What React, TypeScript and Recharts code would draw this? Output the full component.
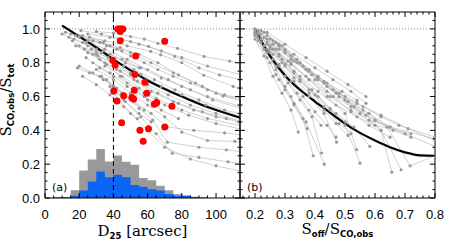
import React from 'react';
import { ComposedChart, Line, Area, Scatter, XAxis, YAxis, ReferenceLine } from 'recharts';

const W = 458;
const H = 248;

// ---- axis ticks ----
const xMajA = [0, 20, 40, 60, 80, 100];
const xAllA = [0, 5, 10, 15, 20, 25, 30, 35, 40, 45, 50, 55, 60, 65, 70, 75, 80, 85, 90, 95, 100, 105, 110];
const yMaj = [0, 0.2, 0.4, 0.6, 0.8, 1.0];
const yAll = [0, 0.05, 0.1, 0.15, 0.2, 0.25, 0.3, 0.35, 0.4, 0.45, 0.5, 0.55, 0.6, 0.65, 0.7, 0.75, 0.8, 0.85, 0.9, 0.95, 1.0, 1.05];
const xMajB = [0.2, 0.3, 0.4, 0.5, 0.6, 0.7, 0.8];
const xAllB = [0.16, 0.18, 0.2, 0.22, 0.24, 0.26, 0.28, 0.3, 0.32, 0.34, 0.36, 0.38, 0.4, 0.42, 0.44, 0.46, 0.48, 0.5, 0.52, 0.54, 0.56, 0.58, 0.6, 0.62, 0.64, 0.66, 0.68, 0.7, 0.72, 0.74, 0.76, 0.78, 0.8];
const xDomA: [number, number] = [0, 114];
const xDomB: [number, number] = [0.15, 0.8];
const yDom: [number, number] = [0, 1.1];

// ---- panel (a) data ----
const histBins = [5, 10, 15, 20, 25, 30, 35, 40, 45, 50, 55, 60, 65, 70, 75, 80, 85, 90, 95];
const histAll = [0, 0.004, 0.046, 0.162, 0.227, 0.29, 0.216, 0.252, 0.214, 0.197, 0.118, 0.105, 0.072, 0.046, 0.024, 0.017, 0.008, 0.003, 0];
const histSub = [0.004, 0.004, 0.014, 0.044, 0.097, 0.157, 0.123, 0.137, 0.123, 0.077, 0.067, 0.052, 0.044, 0.024, 0.012, 0.012, 0.006, 0.003, 0];

const fitAx = [10, 20, 30, 40, 50, 60, 70, 80, 90, 100, 114];
const fitAy = [1.02, 0.955, 0.89, 0.82, 0.755, 0.695, 0.645, 0.6, 0.557, 0.52, 0.475];

const redX = [42.5, 43.5, 44.5, 45.5, 44, 44, 70, 39.6, 41, 53, 52.5, 58.4, 40.2, 52.2, 59.5, 46, 50.8, 51.8, 42.1, 65.3, 63.9, 74.2, 44.8, 55.5, 60.5, 70, 57.4];
const redY = [1.0, 1.0, 1.0, 1.0, 0.985, 0.93, 0.927, 0.815, 0.787, 0.84, 0.73, 0.685, 0.633, 0.637, 0.62, 0.605, 0.595, 0.585, 0.573, 0.565, 0.555, 0.542, 0.445, 0.4, 0.41, 0.42, 0.335];

const tracksA: number[][][] = [
  [[30, 0.985], [40, 0.975], [50, 0.955], [58, 0.94], [66, 0.915], [77.5, 0.885], [93, 0.837], [108, 0.81], [118, 0.79]],
  [[25, 0.97], [38, 0.95], [50, 0.925], [60.5, 0.897], [75.8, 0.837], [90, 0.77], [102, 0.728], [118, 0.69]],
  [[22, 0.96], [35, 0.93], [48, 0.9], [61.8, 0.867], [67.6, 0.847], [80, 0.8], [92.8, 0.726], [110, 0.66], [118, 0.64]],
  [[20, 0.95], [32, 0.92], [44, 0.89], [55, 0.85], [66, 0.8], [78, 0.728], [92, 0.66], [104, 0.603], [118, 0.58]],
  [[18, 0.96], [28, 0.93], [38, 0.9], [50, 0.86], [62, 0.8], [75, 0.74], [88, 0.68], [100, 0.62], [118, 0.56]],
  [[15, 0.97], [25, 0.93], [35, 0.88], [48, 0.82], [60, 0.76], [72, 0.7], [85, 0.64], [98, 0.58], [118, 0.52]],
  [[24, 0.92], [34, 0.87], [45, 0.82], [56, 0.77], [68, 0.71], [80, 0.66], [95, 0.6], [118, 0.53]],
  [[20, 0.9], [30, 0.86], [40, 0.82], [52, 0.76], [64, 0.7], [76, 0.64], [90, 0.58], [105, 0.52], [118, 0.49]],
  [[27, 0.88], [37, 0.83], [46, 0.78], [56, 0.73], [68, 0.66], [80, 0.61], [94, 0.55], [118, 0.47]],
  [[30, 0.85], [40, 0.79], [50, 0.73], [60, 0.67], [72, 0.61], [85, 0.55], [100, 0.5], [118, 0.44]],
  [[25, 0.86], [35, 0.8], [44, 0.75], [54, 0.69], [66, 0.62], [78, 0.56], [92, 0.51], [106, 0.47], [118, 0.43]],
  [[32, 0.82], [42, 0.76], [52, 0.7], [62, 0.63], [75, 0.57], [87, 0.52], [100, 0.48], [118, 0.45]],
  [[35, 0.78], [45, 0.72], [55, 0.65], [65, 0.59], [80, 0.52], [95, 0.47], [118, 0.42]],
  [[28, 0.8], [38, 0.74], [48, 0.68], [58, 0.62], [70, 0.55], [84, 0.49], [100, 0.44], [118, 0.4]],
  [[30, 0.76], [40, 0.7], [50, 0.62], [60, 0.55], [70, 0.48], [80, 0.39], [95, 0.34], [111, 0.335], [118, 0.32]],
  [[33, 0.72], [42, 0.65], [52, 0.57], [62, 0.5], [71.5, 0.42], [87, 0.4], [105, 0.385], [118, 0.37]],
  [[36, 0.7], [45, 0.62], [55, 0.53], [63, 0.46], [71.5, 0.33], [90, 0.3], [106, 0.285], [118, 0.27]],
  [[38, 0.66], [47, 0.57], [56, 0.48], [65, 0.38], [74.4, 0.265], [90, 0.24], [107, 0.214], [118, 0.2]],
  [[40, 0.62], [50, 0.5], [60, 0.4], [70, 0.3], [85, 0.23], [100, 0.19], [118, 0.15]],
  [[18, 0.9], [28, 0.85], [36, 0.79], [44, 0.72], [52, 0.65], [60, 0.58], [68, 0.52], [78, 0.47]],
  [[24, 0.83], [32, 0.77], [40, 0.72], [48, 0.66], [58, 0.6], [66, 0.55]],
  [[20, 0.78], [28, 0.74], [34, 0.7], [40, 0.66], [50, 0.58], [58, 0.52]],
  [[19, 0.77], [26, 0.74], [32, 0.72], [40, 0.66], [46, 0.58], [55, 0.5], [62, 0.45]],
  [[22, 0.72], [30, 0.67], [38, 0.61], [46, 0.54], [54, 0.47]],
  [[12, 0.98], [20, 0.96], [28, 0.93], [36, 0.9], [45, 0.87]],
  [[14, 0.95], [22, 0.92], [30, 0.88], [38, 0.85], [47, 0.8], [55, 0.77]],
  [[16, 0.93], [23, 0.88], [31, 0.84], [40, 0.8], [50, 0.74]],
  [[10, 0.97], [17, 0.94], [25, 0.9], [33, 0.86]],
  [[26, 0.95], [34, 0.92], [42, 0.88], [50, 0.84], [58, 0.8], [66, 0.76], [75, 0.72], [85, 0.68], [95, 0.64], [105, 0.61], [118, 0.58]],
  [[21, 0.99], [33, 0.97], [45, 0.94], [55, 0.91], [68, 0.87], [80, 0.83], [95, 0.78], [118, 0.72]],
];

// ---- panel (b) data ----
const fitBx = [0.2, 0.25, 0.3, 0.35, 0.4, 0.45, 0.5, 0.55, 0.6, 0.65, 0.7, 0.75, 0.8];
const fitBy = [1.0, 0.84, 0.725, 0.64, 0.57, 0.505, 0.44, 0.385, 0.34, 0.3, 0.27, 0.252, 0.25];

const tracksB: number[][][] = [
  [[0.2, 1.0], [0.24, 0.94], [0.28, 0.88], [0.33, 0.81], [0.38, 0.75], [0.43, 0.69], [0.49, 0.63], [0.54, 0.577]],
  [[0.21, 0.99], [0.26, 0.91], [0.32, 0.82], [0.39, 0.73], [0.46, 0.64], [0.54, 0.56], [0.62, 0.49], [0.71, 0.41], [0.8, 0.34]],
  [[0.2, 0.98], [0.25, 0.9], [0.31, 0.81], [0.37, 0.72], [0.44, 0.63], [0.52, 0.54], [0.6, 0.46], [0.7, 0.38], [0.8, 0.305]],
  [[0.21, 0.97], [0.26, 0.88], [0.32, 0.79], [0.38, 0.7], [0.45, 0.6], [0.52, 0.52], [0.58, 0.46], [0.65, 0.42]],
  [[0.2, 0.99], [0.24, 0.91], [0.29, 0.82], [0.35, 0.72], [0.41, 0.63], [0.47, 0.55], [0.54, 0.48], [0.6, 0.43], [0.72, 0.38]],
  [[0.21, 0.98], [0.25, 0.89], [0.3, 0.79], [0.35, 0.7], [0.41, 0.6], [0.47, 0.5], [0.53, 0.42], [0.583, 0.305]],
  [[0.2, 0.97], [0.24, 0.88], [0.28, 0.79], [0.33, 0.69], [0.38, 0.6], [0.43, 0.5], [0.472, 0.33]],
  [[0.2, 0.96], [0.23, 0.88], [0.27, 0.78], [0.31, 0.68], [0.35, 0.58], [0.39, 0.48], [0.422, 0.266]],
  [[0.21, 0.95], [0.24, 0.86], [0.27, 0.76], [0.3, 0.66], [0.33, 0.56], [0.36, 0.47], [0.394, 0.25]],
  [[0.2, 0.94], [0.23, 0.84], [0.26, 0.72], [0.29, 0.62], [0.32, 0.52], [0.344, 0.39]],
  [[0.21, 0.93], [0.24, 0.83], [0.27, 0.73], [0.3, 0.64], [0.33, 0.55], [0.374, 0.41]],
  [[0.22, 0.92], [0.25, 0.8], [0.28, 0.7], [0.32, 0.6], [0.37, 0.45], [0.431, 0.2]],
  [[0.23, 0.95], [0.28, 0.85], [0.33, 0.75], [0.39, 0.64], [0.45, 0.53], [0.5, 0.43], [0.55, 0.206]],
  [[0.22, 0.97], [0.27, 0.88], [0.32, 0.8], [0.38, 0.7], [0.44, 0.6], [0.5, 0.5], [0.539, 0.286]],
  [[0.24, 0.96], [0.3, 0.87], [0.36, 0.78], [0.43, 0.68], [0.5, 0.58], [0.57, 0.49], [0.62, 0.4], [0.656, 0.153]],
  [[0.23, 0.98], [0.29, 0.9], [0.35, 0.8], [0.41, 0.7], [0.48, 0.6], [0.55, 0.5], [0.62, 0.4], [0.687, 0.167]],
  [[0.22, 0.99], [0.28, 0.91], [0.34, 0.82], [0.41, 0.72], [0.48, 0.62], [0.56, 0.52], [0.64, 0.42], [0.717, 0.19], [0.8, 0.25]],
  [[0.25, 0.94], [0.3, 0.86], [0.37, 0.76], [0.44, 0.66], [0.51, 0.57], [0.58, 0.5], [0.65, 0.42], [0.8, 0.35]],
  [[0.26, 0.93], [0.32, 0.84], [0.38, 0.76], [0.44, 0.68], [0.5, 0.6], [0.56, 0.54], [0.62, 0.48], [0.68, 0.43], [0.8, 0.36]],
  [[0.27, 0.92], [0.33, 0.85], [0.4, 0.77], [0.46, 0.7], [0.52, 0.63], [0.57, 0.56]],
  [[0.24, 0.92], [0.28, 0.84], [0.33, 0.74], [0.38, 0.64], [0.43, 0.54], [0.48, 0.44], [0.52, 0.38]],
  [[0.23, 0.9], [0.26, 0.82], [0.3, 0.72], [0.34, 0.62], [0.38, 0.52], [0.42, 0.43]],
  [[0.25, 0.88], [0.29, 0.8], [0.33, 0.71], [0.38, 0.62], [0.43, 0.52], [0.47, 0.44], [0.51, 0.37]],
  [[0.28, 0.9], [0.34, 0.8], [0.4, 0.7], [0.46, 0.6], [0.52, 0.51], [0.58, 0.43], [0.65, 0.36]],
  [[0.3, 0.88], [0.35, 0.8], [0.41, 0.71], [0.47, 0.62], [0.53, 0.54], [0.6, 0.46], [0.66, 0.4], [0.72, 0.36]],
  [[0.26, 0.85], [0.3, 0.78], [0.35, 0.69], [0.4, 0.61], [0.45, 0.52], [0.5, 0.45]],
  [[0.22, 0.94], [0.25, 0.86], [0.28, 0.78], [0.32, 0.69], [0.36, 0.6], [0.4, 0.51], [0.44, 0.43], [0.47, 0.36]],
  [[0.24, 0.98], [0.3, 0.91], [0.37, 0.83], [0.44, 0.75], [0.51, 0.67], [0.57, 0.6]],
];

// ---- derived tables ----
const toPts = (t: number[][]) => t.map(([x, y]) => ({ x, y }));
const histAllData = histBins.map((x, i) => ({ x, y: histAll[i] }));
const histSubData = histBins.map((x, i) => ({ x, y: histSub[i] }));
const fitAData = fitAx.map((x, i) => ({ x, y: fitAy[i] }));
const fitBData = fitBx.map((x, i) => ({ x, y: fitBy[i] }));
const redData = redX.map((x, i) => ({ x, y: redY[i] }));

const TICK_FF = 'Liberation Sans, Arial, sans-serif';
const SUB = { fontFamily: 'DejaVu Sans, sans-serif', fontWeight: 'bold' as const, fontSize: 8.5 };
const SERIF = 'DejaVu Serif, serif';

type Side = 'bottom' | 'top' | 'left' | 'right';
const makeTick = (side: Side, majors: number[], labels: boolean, fmt: (v: number) => string) => (props: any) => {
  const { x, y, payload } = props;
  const v = payload.value as number;
  const major = majors.indexOf(v) >= 0;
  const len = major ? 5 : 2.5;
  let line = null;
  let label = null;
  if (side === 'bottom') {
    line = <line x1={x} x2={x} y1={y} y2={y - len} stroke="#000" />;
    if (labels && major) label = <text x={x} y={y + 21} textAnchor="middle" fontFamily={TICK_FF} fontSize={13} fill="#000">{fmt(v)}</text>;
  } else if (side === 'top') {
    line = <line x1={x} x2={x} y1={y} y2={y + len} stroke="#000" />;
  } else if (side === 'left') {
    line = <line x1={x} x2={x + len} y1={y} y2={y} stroke="#000" />;
    if (labels && major) label = <text x={x - 5} y={y + 4.6} textAnchor="end" fontFamily={TICK_FF} fontSize={13} fill="#000">{fmt(v)}</text>;
  } else {
    line = <line x1={x} x2={x - len} y1={y} y2={y} stroke="#000" />;
  }
  return <g>{line}{label}</g>;
};
const f0 = (v: number) => String(v);
const f1 = (v: number) => v.toFixed(1);

const TitleA = () => (
  <g>
    <text x={142.5} y={236} textAnchor="middle" fontFamily={SERIF} fontSize={15} fill="#000">
      D<tspan {...SUB} dy={3}>25</tspan><tspan dy={-3} fontSize={15} fontFamily={SERIF}> [arcsec]</tspan>
    </text>
    <text x={52} y={191} fontFamily="DejaVu Sans, sans-serif" fontSize={11} fill="#000">(a)</text>
  </g>
);

const TitleB = () => (
  <g>
    <text x={337.5} y={234} textAnchor="middle" fontFamily={SERIF} fontSize={15} fill="#000">
      S<tspan {...SUB} dy={3}>off</tspan><tspan dy={-3} fontSize={15} fontFamily={SERIF}>/S</tspan><tspan {...SUB} dy={3}>CO,obs</tspan>
    </text>
    <text x={247} y={191} fontFamily="DejaVu Sans, sans-serif" fontSize={11} fill="#000">(b)</text>
  </g>
);

const TitleY = () => (
  <text transform="translate(11, 100) rotate(-90)" textAnchor="middle" fontFamily={SERIF} fontSize={15} fill="#000">
    S<tspan {...SUB} dy={3}>CO,obs</tspan><tspan dy={-3} fontSize={15} fontFamily={SERIF}>/S</tspan><tspan {...SUB} dy={3}>tot</tspan>
  </text>
);

const common = { type: 'number' as const, allowDataOverflow: true, interval: 0 as const, tickLine: false, tickSize: 0, tickMargin: 0, stroke: '#000' };

function axes(xDom: [number, number], xAll: number[], xMaj: number[], xFmt: (v: number) => string, yLabels: boolean, yWidth: number, titleX: React.ReactElement, titleY: React.ReactElement | undefined) {
  return [
    <XAxis key="x" xAxisId="x" dataKey="x" orientation="bottom" height={30} domain={xDom} ticks={xAll}
      tick={makeTick('bottom', xMaj, true, xFmt)} label={titleX} {...common} />,
    <XAxis key="t" xAxisId="t" dataKey="x" orientation="top" height={1} domain={xDom} ticks={xAll}
      tick={makeTick('top', xMaj, false, xFmt)} {...common} />,
    <YAxis key="y" yAxisId="y" dataKey="y" orientation="left" width={yWidth} domain={yDom} ticks={yAll}
      tick={makeTick('left', yMaj, yLabels, f1)} label={titleY} {...common} />,
    <YAxis key="r" yAxisId="r" dataKey="y" orientation="right" width={1} domain={yDom} ticks={yAll}
      tick={makeTick('right', yMaj, false, f1)} {...common} />,
  ];
}

const trackLine = (pts: number[][], i: number) => (
  <Line
    key={'t' + i}
    data={toPts(pts)}
    dataKey="y"
    xAxisId="x"
    yAxisId="y"
    type="linear"
    stroke="#bdbdbd"
    strokeWidth={0.7}
    dot={{ r: 1.6, fill: '#9a9a9a', stroke: 'none' }}
    activeDot={false}
    isAnimationActive={false}
  />
);

export default function App() {
  return (
    <div style={{ position: 'absolute', left: 0, top: 0, width: W, height: H, background: '#fff' }}>
      <div style={{ position: 'absolute', left: 0, top: 0 }}>
        <ComposedChart width={W} height={H} margin={{ top: 11, right: 217, bottom: 20, left: 5 }}>
          {axes(xDomA, xAllA, xMajA, f0, true, 40, <TitleA />, <TitleY />)}
          <Area data={histAllData} dataKey="y" xAxisId="x" yAxisId="y" type="stepAfter" fill="#999999" fillOpacity={1} stroke="none" isAnimationActive={false} />
          <Area data={histSubData} dataKey="y" xAxisId="x" yAxisId="y" type="stepAfter" fill="#0a64f5" fillOpacity={1} stroke="none" isAnimationActive={false} />
          <ReferenceLine xAxisId="x" yAxisId="y" y={1} stroke="#888" strokeDasharray="1 2" />
          <ReferenceLine xAxisId="x" yAxisId="y" x={40} stroke="#000" strokeDasharray="5 3" />
          {tracksA.map(trackLine)}
          <Line data={fitAData} dataKey="y" xAxisId="x" yAxisId="y" type="monotone" stroke="#000" strokeWidth={2.2} dot={false} activeDot={false} isAnimationActive={false} />
          <Scatter data={redData} dataKey="y" xAxisId="x" yAxisId="y" fill="#ff0000" isAnimationActive={false}
            shape={(p: any) => <circle cx={p.cx} cy={p.cy} r={3.5} fill="#ff0000" />} />
        </ComposedChart>
      </div>
      <div style={{ position: 'absolute', left: 0, top: 0 }}>
        <ComposedChart width={W} height={H} margin={{ top: 11, right: 22, bottom: 20, left: 239 }}>
          {axes(xDomB, xAllB, xMajB, f1, false, 1, <TitleB />, undefined)}
          <ReferenceLine xAxisId="x" yAxisId="y" y={1} stroke="#888" strokeDasharray="1 2" />
          {tracksB.map(trackLine)}
          <Line data={fitBData} dataKey="y" xAxisId="x" yAxisId="y" type="monotone" stroke="#000" strokeWidth={2.2} dot={false} activeDot={false} isAnimationActive={false} />
        </ComposedChart>
      </div>
    </div>
  );
}
